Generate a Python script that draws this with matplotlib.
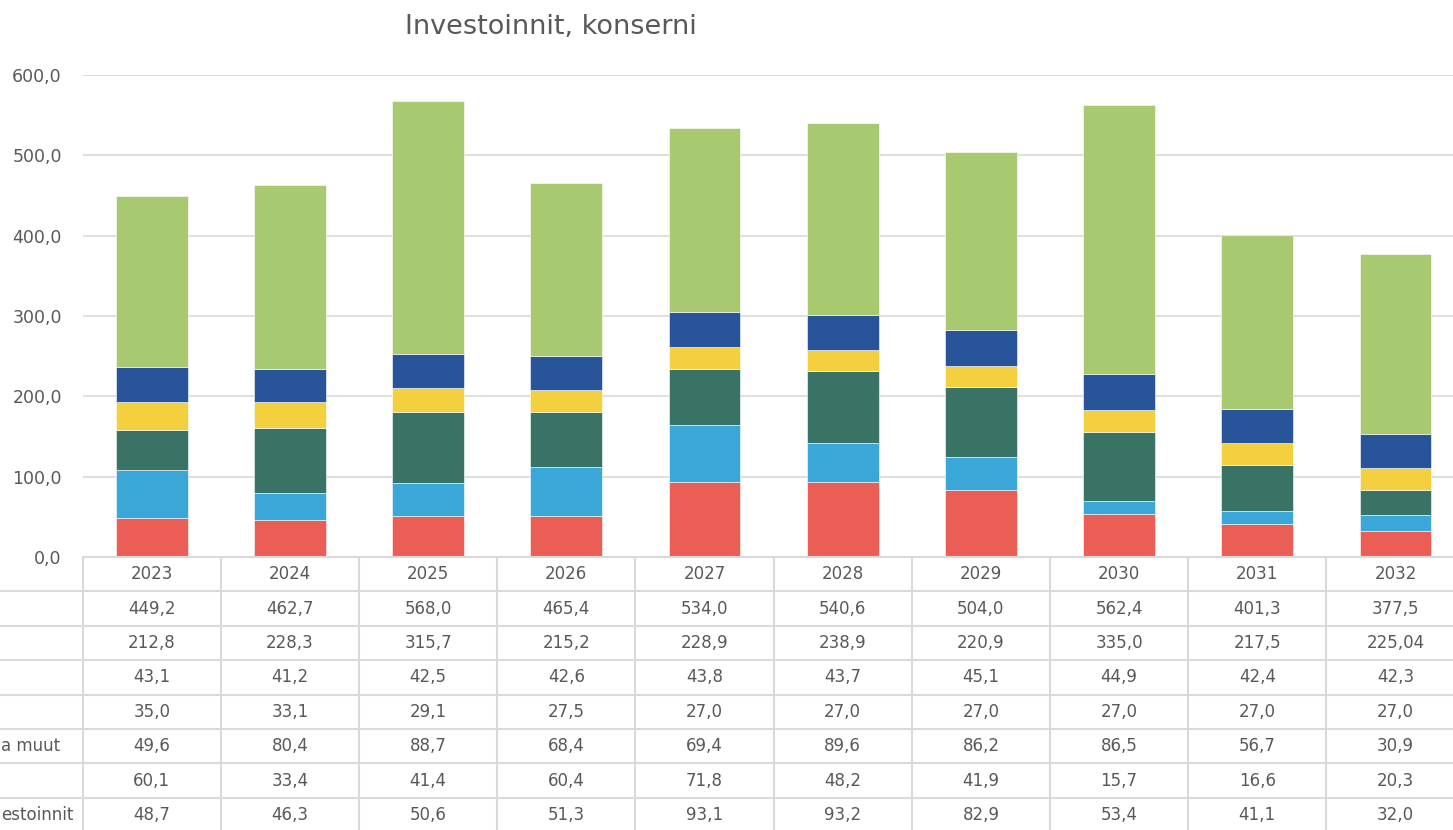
import matplotlib
matplotlib.use("Agg")
import matplotlib.pyplot as plt
import numpy as np

plt.rcParams['font.family'] = ['DejaVu Sans']

years = ["2023", "2024", "2025", "2026", "2027", "2028", "2029", "2030", "2031", "2032"]
total = ["449,2", "462,7", "568,0", "465,4", "534,0", "540,6", "504,0", "562,4", "401,3", "377,5"]

# series, top table row first
s_green = [212.8, 228.3, 315.7, 215.2, 228.9, 238.9, 220.9, 335.0, 217.5, 225.04]
s_navy = [43.1, 41.2, 42.5, 42.6, 43.8, 43.7, 45.1, 44.9, 42.4, 42.3]
s_yellow = [35.0, 33.1, 29.1, 27.5, 27.0, 27.0, 27.0, 27.0, 27.0, 27.0]
s_teal = [49.6, 80.4, 88.7, 68.4, 69.4, 89.6, 86.2, 86.5, 56.7, 30.9]
s_sky = [60.1, 33.4, 41.4, 60.4, 71.8, 48.2, 41.9, 15.7, 16.6, 20.3]
s_red = [48.7, 46.3, 50.6, 51.3, 93.1, 93.2, 82.9, 53.4, 41.1, 32.0]

# only the visible (cropped) parts of the row labels appear in the reference
row_labels = ["", "", "", "", "a muut", "", "estoinnit"]
row_texts = [["225,04" if v == 225.04 else f"{v:.1f}".replace(".", ",") for v in s]
             for s in [s_green, s_navy, s_yellow, s_teal, s_sky, s_red]]
fmt_rows = [total] + row_texts

colors = {"green": "#A9C971", "navy": "#28549A", "yellow": "#F4D03F",
          "teal": "#397365", "sky": "#3BA6D8", "red": "#EB5E56"}

W, H = 1453, 830
fig = plt.figure(figsize=(W / 100, H / 100), dpi=100)

txt_col = "#595959"
grid_col = "#D9D9D9"

# main plot area in pixels
px_left, px_right = 82.6, 1464.6
px_top, px_bottom = 75, 557
ax = fig.add_axes([px_left / W, 1 - px_bottom / H, (px_right - px_left) / W, (px_bottom - px_top) / H])
x = np.arange(len(years))
bottom = np.zeros(len(years))
stack = [(s_red, "red"), (s_sky, "sky"), (s_teal, "teal"), (s_yellow, "yellow"),
         (s_navy, "navy"), (s_green, "green")]
for vals, c in stack:
    ax.bar(x, vals, width=0.52, bottom=bottom, color=colors[c], edgecolor="white",
           linewidth=0.4, zorder=3)
    bottom += np.array(vals)
ax.set_xlim(-0.5, len(years) - 0.5)
ax.set_ylim(0, 600)
ax.set_yticks(np.arange(0, 601, 100))
ax.set_yticklabels([f"{v:.1f}".replace(".", ",") for v in np.arange(0, 601, 100)],
                   color=txt_col, fontsize=12.5)
ax.tick_params(axis="y", length=0, pad=15)
ax.set_xticks([])
ax.grid(axis="y", color=grid_col, linewidth=1.2, zorder=0)
for sp in ax.spines.values():
    sp.set_visible(False)

# title
fig.text(551 / W, 1 - 27 / H, "Investoinnit, konserni", ha="center", va="center",
         fontsize=19.5, color=txt_col)

# data table
row_h = 34.4
header_top = 557
n_rows = len(fmt_rows)
tab_bottom = header_top + row_h * (n_rows + 1)
cat_w = (px_right - px_left) / len(years)
xl0 = -0.5 - px_left / cat_w
tax = fig.add_axes([0, 1 - (tab_bottom) / H, px_right / W, (tab_bottom - header_top) / H])
tax.set_xlim(xl0, len(years) - 0.5)
tax.set_ylim(tab_bottom, header_top)
tax.axis("off")
lc = "#D9D9D9"
tax.plot([-0.5, len(years) - 0.5], [header_top + 0.5, header_top + 0.5], color=lc, lw=1.5, clip_on=False)
for r in range(1, n_rows + 1):
    yy = header_top + row_h * r
    tax.plot([xl0, len(years) - 0.5], [yy, yy], color=lc, lw=1.5, clip_on=False)
for i in range(len(years)):
    tax.plot([i - 0.5, i - 0.5], [header_top, tab_bottom], color=lc, lw=1.5, clip_on=False)
for i, yv in enumerate(years):
    tax.text(i, header_top + row_h / 2, yv, ha="center", va="center", fontsize=12, color=txt_col)
for r, row in enumerate(fmt_rows):
    yc = header_top + row_h * (r + 1.5)
    for i, v in enumerate(row):
        tax.text(i, yc, v, ha="center", va="center", fontsize=12, color=txt_col)
    if row_labels[r]:
        tax.text(xl0 + 1 / cat_w, yc, row_labels[r], ha="left", va="center", fontsize=12,
                 color=txt_col, clip_on=False)

fig.savefig("out.png", dpi=100)
